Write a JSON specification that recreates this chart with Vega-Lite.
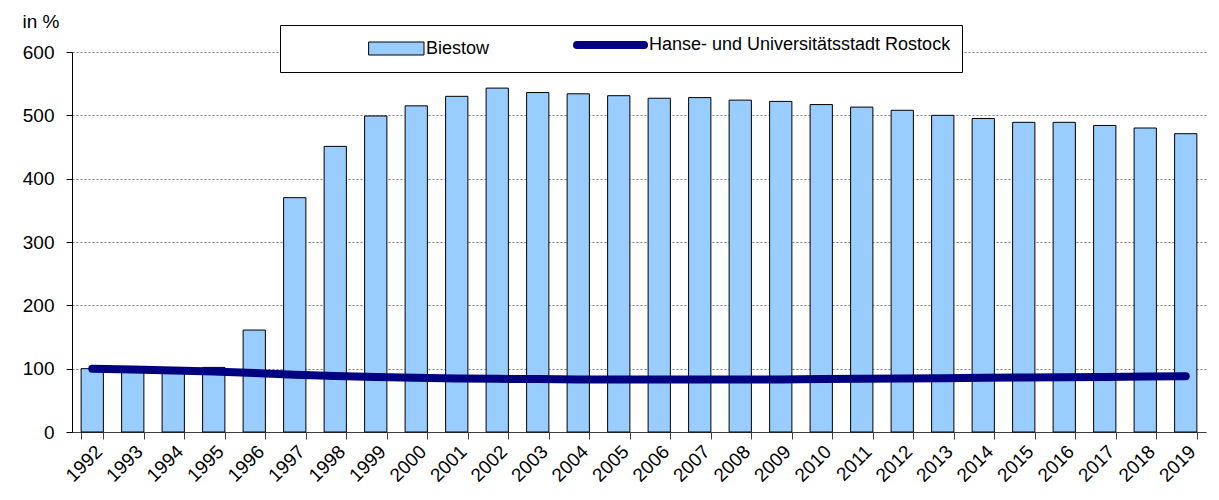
{
  "$schema": "https://vega.github.io/schema/vega-lite/v6.json",
  "width": 1134,
  "height": 380,
  "autosize": {"type": "none"},
  "padding": {"left": 72, "top": 52, "right": 13, "bottom": 68},
  "background": "white",
  "config": {
    "font": "Liberation Sans",
    "view": {"stroke": null},
    "legend": {
      "orient": "none",
      "legendX": 208,
      "legendY": -27,
      "direction": "horizontal",
      "fillColor": "white",
      "strokeColor": "black",
      "padding": 11,
      "labelFontSize": 18,
      "labelColor": "black",
      "labelLimit": 0,
      "symbolSize": 400,
      "labelOffset": 3,
      "columnPadding": 71,
      "titleOrient": "left",
      "titlePadding": 114,
      "titleFontSize": 20
    }
  },
  "data": {
    "values": [
      {"year": "1992", "biestow": 100, "rostock": 100},
      {"year": "1993", "biestow": 98, "rostock": 98.5},
      {"year": "1994", "biestow": 96, "rostock": 97},
      {"year": "1995", "biestow": 102, "rostock": 95.5},
      {"year": "1996", "biestow": 161, "rostock": 93},
      {"year": "1997", "biestow": 370, "rostock": 90.5},
      {"year": "1998", "biestow": 451, "rostock": 88.5},
      {"year": "1999", "biestow": 499, "rostock": 87},
      {"year": "2000", "biestow": 515, "rostock": 85.5},
      {"year": "2001", "biestow": 530, "rostock": 84.5},
      {"year": "2002", "biestow": 543, "rostock": 84},
      {"year": "2003", "biestow": 536, "rostock": 83.5},
      {"year": "2004", "biestow": 534, "rostock": 83},
      {"year": "2005", "biestow": 531, "rostock": 83},
      {"year": "2006", "biestow": 527, "rostock": 83},
      {"year": "2007", "biestow": 528, "rostock": 83},
      {"year": "2008", "biestow": 524, "rostock": 83},
      {"year": "2009", "biestow": 522, "rostock": 83},
      {"year": "2010", "biestow": 517, "rostock": 83.5},
      {"year": "2011", "biestow": 513, "rostock": 84},
      {"year": "2012", "biestow": 508, "rostock": 84.5},
      {"year": "2013", "biestow": 500, "rostock": 85},
      {"year": "2014", "biestow": 495, "rostock": 85.5},
      {"year": "2015", "biestow": 489, "rostock": 86},
      {"year": "2016", "biestow": 489, "rostock": 86.5},
      {"year": "2017", "biestow": 484, "rostock": 87},
      {"year": "2018", "biestow": 480, "rostock": 87.5},
      {"year": "2019", "biestow": 471, "rostock": 88}
    ]
  },
  "encoding": {
    "x": {
      "field": "year",
      "type": "ordinal",
      "scale": {"paddingInner": 0.45, "paddingOuter": 0.225},
      "axis": {
        "title": null,
        "tickBand": "extent",
        "labelAngle": -45,
        "labelFontSize": 19,
        "labelColor": "black",
        "labelPadding": 3,
        "tickSize": 7,
        "tickColor": "#404040",
        "domainColor": "#404040",
        "grid": false
      }
    }
  },
  "layer": [
    {
      "mark": {"type": "bar", "fill": "#99ccff", "stroke": "black", "strokeWidth": 1},
      "encoding": {
        "y": {
          "field": "biestow",
          "type": "quantitative",
          "title": "in %",
          "scale": {"domain": [0, 600]},
          "axis": {
            "values": [0, 100, 200, 300, 400, 500, 600],
            "grid": true,
            "gridDash": [2, 2],
            "gridColor": "#7f7f7f",
            "gridWidth": 1,
            "domainColor": "black",
            "tickColor": "black",
            "tickSize": 6,
            "labelFontSize": 19,
            "labelColor": "black",
            "labelPadding": 12,
            "titleFontSize": 19,
            "titleFontWeight": "normal",
            "titleColor": "black",
            "titleAngle": 0,
            "titleAlign": "left",
            "titleBaseline": "alphabetic",
            "titleX": -50,
            "titleY": -25
          }
        }
      }
    },
    {
      "mark": {"type": "line", "strokeWidth": 8, "strokeCap": "round", "strokeJoin": "round"},
      "encoding": {
        "y": {"field": "rostock", "type": "quantitative", "title": "in %"},
        "color": {
          "datum": "Hanse- und Universitätsstadt Rostock",
          "type": "nominal",
          "scale": {
            "domain": ["Biestow", "Hanse- und Universitätsstadt Rostock"],
            "range": ["#000000", "#000080"]
          },
          "legend": {
            "title": " ",
            "encode": {
              "symbols": {
                "update": {
                  "shape": {"signal": "datum.value === 'Biestow' ? 'M-4.5,-0.65H1V0.65H-4.5Z' : 'M-6,0H0.7'"},
                  "fill": {"signal": "datum.value === 'Biestow' ? '#99ccff' : 'transparent'"},
                  "strokeWidth": {"signal": "datum.value === 'Biestow' ? 1 : 8"},
                  "strokeCap": {"value": "round"},
                  "opacity": {"value": 1}
                }
              }
            }
          }
        }
      }
    }
  ]
}
